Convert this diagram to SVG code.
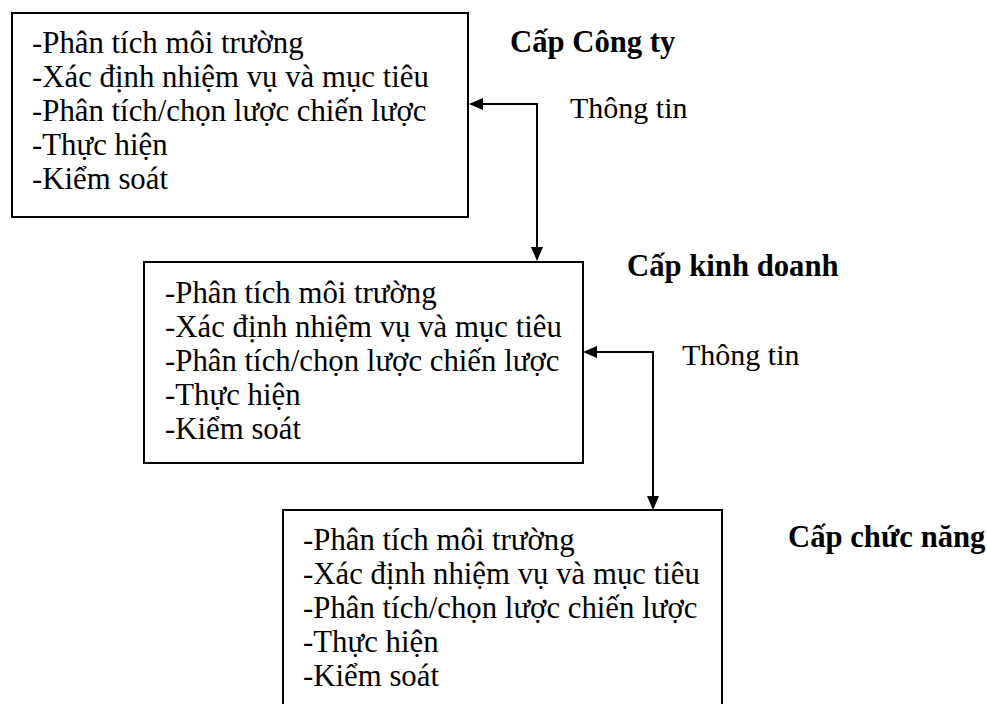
<svg xmlns="http://www.w3.org/2000/svg" width="987" height="704" viewBox="0 0 987 704">
<style>
  .box { fill: #ffffff; stroke: #000000; stroke-width: 2; }
  .item { font-family: "Liberation Serif", "Times New Roman", "DejaVu Serif", serif; font-size: 30.8px; fill: #000000; }
  .level { font-family: "Liberation Serif", "Times New Roman", "DejaVu Serif", serif; font-size: 30.7px; font-weight: bold; fill: #000000; }
  .info { font-family: "Liberation Serif", "Times New Roman", "DejaVu Serif", serif; font-size: 30px; fill: #000000; }
  .conn { fill: none; stroke: #000000; stroke-width: 2; marker-start: url(#arrow); marker-end: url(#arrow); }
</style>
<defs>
  <marker id="arrow" markerUnits="userSpaceOnUse" markerWidth="14" markerHeight="12" refX="12" refY="6" orient="auto-start-reverse">
    <path d="M0,0 L14,6 L0,12 z" fill="#000000"/>
  </marker>
</defs>
<rect width="987" height="704" fill="#ffffff"/>

<g id="node-cong-ty">
  <rect class="box" x="12" y="13" width="456" height="204"/>
  <text class="item" x="32" y="53">-Phân tích môi trường</text>
  <text class="item" x="32" y="87">-Xác định nhiệm vụ và mục tiêu</text>
  <text class="item" x="32" y="121">-Phân tích/chọn lược chiến lược</text>
  <text class="item" x="32" y="155">-Thực hiện</text>
  <text class="item" x="32" y="189">-Kiểm soát</text>
</g>

<g id="node-kinh-doanh">
  <rect class="box" x="144" y="262" width="439" height="201"/>
  <text class="item" x="165" y="303">-Phân tích môi trường</text>
  <text class="item" x="165" y="337">-Xác định nhiệm vụ và mục tiêu</text>
  <text class="item" x="165" y="371">-Phân tích/chọn lược chiến lược</text>
  <text class="item" x="165" y="405">-Thực hiện</text>
  <text class="item" x="165" y="439">-Kiểm soát</text>
</g>

<g id="node-chuc-nang">
  <rect class="box" x="283" y="510" width="439" height="230"/>
  <text class="item" x="303" y="550">-Phân tích môi trường</text>
  <text class="item" x="303" y="584">-Xác định nhiệm vụ và mục tiêu</text>
  <text class="item" x="303" y="618">-Phân tích/chọn lược chiến lược</text>
  <text class="item" x="303" y="652">-Thực hiện</text>
  <text class="item" x="303" y="686">-Kiểm soát</text>
</g>

<g id="labels">
  <text class="level" x="510" y="52">Cấp Công ty</text>
  <text class="level" x="627" y="276">Cấp kinh doanh</text>
  <text class="level" x="788" y="547">Cấp chức năng</text>
  <text class="info" x="570" y="118">Thông tin</text>
  <text class="info" x="682" y="365">Thông tin</text>
</g>

<g id="connectors">
  <path class="conn" d="M 471 104 H 537 V 259"/>
  <path class="conn" d="M 585 352 H 653 V 508"/>
</g>
</svg>
